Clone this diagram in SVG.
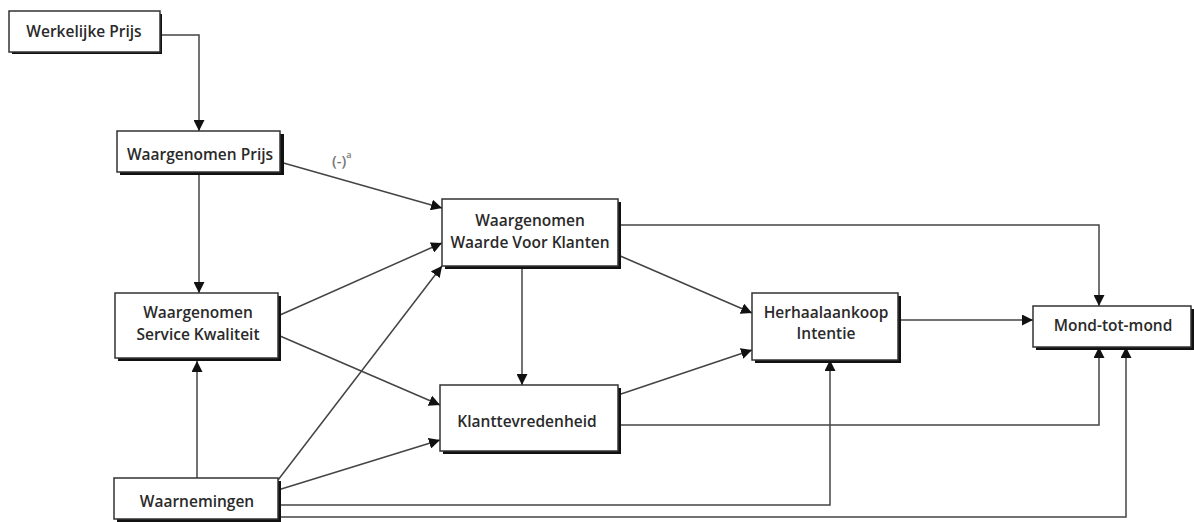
<svg xmlns="http://www.w3.org/2000/svg" width="1194" height="522" viewBox="0 0 1194 522">
<defs>
<marker id="ah" viewBox="0 0 10 10" refX="10" refY="5" markerWidth="11" markerHeight="11" markerUnits="userSpaceOnUse" orient="auto">
<path d="M0,0 L10,5 L0,10 Z" fill="#111"/>
</marker>
</defs>
<style>
.box rect.b{fill:#fff;stroke:#333;stroke-width:1.5}
.box rect.s{fill:#111}
.box text{font-family:"Open Sans","Liberation Sans",sans-serif;font-size:15.5px;font-weight:600;fill:#2a2a2a;text-anchor:middle}
.c path{fill:none;stroke:#444;stroke-width:1.5;marker-end:url(#ah)}
.lbl{font-family:"Open Sans","Liberation Sans",sans-serif;font-weight:600;fill:#777}
</style>
<rect width="1194" height="522" fill="#fff"/>
<g class="c" id="connectors">
<path d="M160,35 H199 V131"/>
<path d="M199,172 V293"/>
<path d="M280,162 L442,208"/>
<path d="M280,315 L442,243"/>
<path d="M278,480 L442,266"/>
<path d="M280,336 L440,405"/>
<path d="M278,490 L440,440"/>
<path d="M197,478 V361"/>
<path d="M522,266 V385"/>
<path d="M618,255 L752,313"/>
<path d="M618,395 L752,350"/>
<path d="M618,225 H1099 V306"/>
<path d="M898,320 H1033"/>
<path d="M618,425 H1099 V347"/>
<path d="M278,505 H830 V360"/>
<path d="M278,517 H1126 V347"/>
</g>
<text class="lbl" x="332" y="166" font-size="15">(-)<tspan dy="-8" font-size="9">a</tspan></text>
<g class="box" id="werkelijke-prijs">
<rect class="s" x="12" y="14" width="150" height="40"/>
<rect class="b" x="9" y="11" width="151" height="41"/>
<text x="84" y="37">Werkelijke Prijs</text>
</g>
<g class="box" id="waargenomen-prijs">
<rect class="s" x="120" y="134" width="164" height="41"/>
<rect class="b" x="117" y="131" width="163" height="41"/>
<text x="200" y="160">Waargenomen Prijs</text>
</g>
<g class="box" id="waargenomen-service-kwaliteit">
<rect class="s" x="118" y="296" width="163" height="65"/>
<rect class="b" x="115" y="293" width="163" height="65"/>
<text x="198" y="318">Waargenomen</text>
<text x="198" y="340">Service Kwaliteit</text>
</g>
<g class="box" id="waarnemingen">
<rect class="s" x="117" y="481" width="164" height="41"/>
<rect class="b" x="114" y="478" width="164" height="41"/>
<text x="197" y="507">Waarnemingen</text>
</g>
<g class="box" id="waargenomen-waarde">
<rect class="s" x="445" y="202" width="176" height="67"/>
<rect class="b" x="442" y="199" width="176" height="67"/>
<text x="530" y="226">Waargenomen</text>
<text x="530" y="248">Waarde Voor Klanten</text>
</g>
<g class="box" id="klanttevredenheid">
<rect class="s" x="443" y="388" width="178" height="66"/>
<rect class="b" x="440" y="385" width="178" height="66"/>
<text x="527" y="427">Klanttevredenheid</text>
</g>
<g class="box" id="herhaalaankoop-intentie">
<rect class="s" x="755" y="296" width="146" height="67"/>
<rect class="b" x="752" y="293" width="146" height="67"/>
<text x="826" y="318">Herhaalaankoop</text>
<text x="826" y="339">Intentie</text>
</g>
<g class="box" id="mond-tot-mond">
<rect class="s" x="1036" y="309" width="158" height="41"/>
<rect class="b" x="1033" y="306" width="158" height="41"/>
<text x="1113" y="331">Mond-tot-mond</text>
</g>
</svg>
